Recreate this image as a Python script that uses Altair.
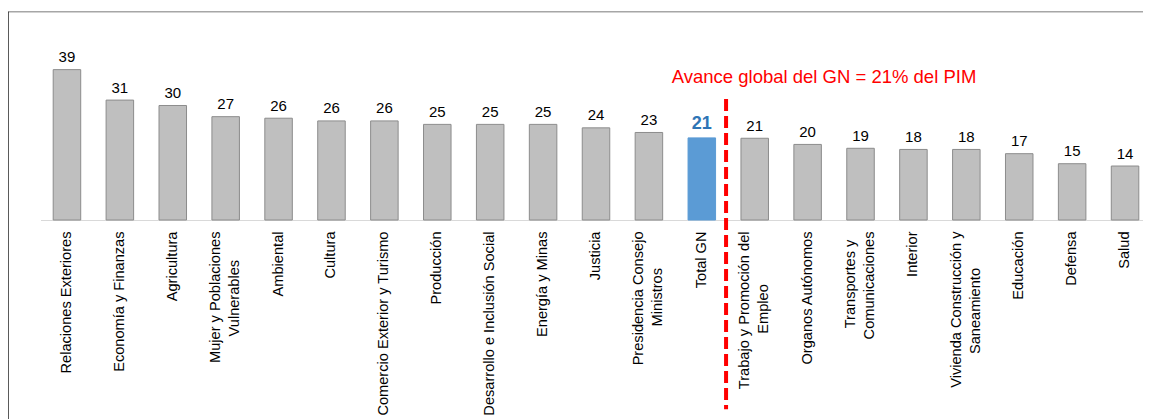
import altair as alt
import pandas as pd

categories = [
    "Relaciones Exteriores", "Economía y Finanzas", "Agricultura",
    "Mujer y Poblaciones\nVulnerables", "Ambiental", "Cultura",
    "Comercio Exterior y Turismo", "Producción", "Desarrollo e Inclusión Social",
    "Energía y Minas", "Justicia", "Presidencia Consejo\nMinistros", "Total GN",
    "Trabajo y Promoción del\nEmpleo", "Organos Autónomos",
    "Transportes y\nComunicaciones", "Interior",
    "Vivienda Construcción y\nSaneamiento", "Educación", "Defensa", "Salud",
]
values = [39.0, 31.1, 29.7, 26.8, 26.4, 25.7, 25.7, 24.8, 24.8, 24.8, 23.9,
          22.7, 21.3, 21.2, 19.6, 18.6, 18.3, 18.3, 17.2, 14.6, 14.0]
highlight = "Total GN"
annotation = "Avance global del GN = 21% del PIM"

FONT = "Liberation Sans"

# Arial / Liberation Sans advance widths (1/1000 em), used to centre the
# lines of two-line labels on each other (no-break spaces + word joiner,
# so that the padding is not trimmed away)
AW = {" ": 278, "\u00a0": 278}
AW.update(dict(zip("abcdefghijklmnopqrstuvwxyz",
                   [556, 556, 500, 556, 556, 278, 556, 556, 222, 222, 500, 222, 833,
                    556, 556, 556, 556, 333, 500, 278, 556, 500, 722, 500, 500, 500])))
AW.update(dict(zip("ABCDEFGHIJKLMNOPQRSTUVWXYZ",
                   [667, 667, 722, 722, 667, 611, 778, 722, 278, 500, 667, 556, 833,
                    722, 778, 667, 778, 722, 667, 611, 722, 667, 944, 667, 667, 611])))
AW.update({"í": 278, "ó": 556, "ú": 556, "á": 556, "é": 556})


def text_em(s):
    return sum(AW.get(c, 556) for c in s) / 1000.0


def centre_lines(label):
    lines = label.split("\n")
    if len(lines) < 2:
        return label
    longest = max(text_em(l) for l in lines)
    out = []
    for l in lines:
        n = int(round((longest - text_em(l)) / 2 / 0.278))
        out.append(l + ("\u00a0" * n + "\u2060" if n else ""))
    return "\n".join(out)


display = [centre_lines(c) for c in categories]
df = pd.DataFrame({"cat": display, "value": values,
                   "is_hl": [c == highlight for c in categories]})

W = 1102.5          # visible plot width (svg = 32.5 + W = 1135 px)
RANGE = 1111        # band range, runs on to the page edge
H = 208.2
x_scale = alt.Scale(domain=display, range=[0, RANGE], paddingInner=0.48, paddingOuter=0.24)
y_scale = alt.Scale(domain=[0, 54.0], nice=False, zero=True)

x_enc = alt.X("cat:N", scale=x_scale, sort=None,
              axis=alt.Axis(title=None, labelAngle=270, labelAlign="right",
                            labelBaseline="middle", labelFont=FONT,
                            labelFontSize=14.6, labelColor="#000000",
                            labelPadding=11, labelLimit=500, labelLineHeight=19,
                            labelOffset={"condition": {"test": "indexof(datum.label, '\\n') >= 0",
                                                       "value": -9.5},
                                         "value": 0},
                            labelExpr="split(datum.label, '\\n')",
                            ticks=False, tickSize=0, domainColor="#D9D9D9",
                            domainWidth=1, grid=False, labelOverlap=False))
y_enc = alt.Y("value:Q", scale=y_scale, axis=None)

base = alt.Chart(df)

bars = base.mark_bar(strokeWidth=1).encode(
    x=x_enc, y=y_enc,
    fill=alt.condition("datum.is_hl", alt.value("#5B9BD5"), alt.value("#BFBFBF")),
    stroke=alt.condition("datum.is_hl", alt.value("#5B9BD5"), alt.value("#8C8C8C")),
)

labels = base.transform_filter("!datum.is_hl").mark_text(
    font=FONT, fontSize=15, color="#000000", baseline="alphabetic", dy=-7.5
).encode(x=alt.X("cat:N", scale=x_scale, sort=None), y=y_enc,
         text=alt.Text("value:Q", format=".0f"))

hl_label = base.transform_filter("datum.is_hl").mark_text(
    font=FONT, fontSize=18, fontWeight="bold", color="#2E75B6",
    baseline="alphabetic", dy=-9
).encode(x=alt.X("cat:N", scale=x_scale, sort=None), y=y_enc,
         text=alt.Text("value:Q", format=".0f"))

divider = base.transform_filter("datum.is_hl").mark_rule(
    color="#FF0000", strokeWidth=4, strokeDash=[12, 5], xOffset=10.5
).encode(x=alt.X("cat:N", scale=x_scale, sort=None, bandPosition=1),
         y=alt.datum(31.4), y2=alt.value(397.5))

note = alt.Chart(pd.DataFrame({"t": [annotation]})).mark_text(
    font=FONT, fontSize=18.5, color="#FF0000", align="center", baseline="alphabetic"
).encode(x=alt.value(783.5), y=alt.value(71.5), text="t:N")

frame_top = alt.Chart(pd.DataFrame({"a": [0]})).mark_rule(
    color="#A6A6A6", strokeWidth=1.5
).encode(x=alt.value(-32.5), x2=alt.value(RANGE), y=alt.value(0))

frame_left = alt.Chart(pd.DataFrame({"a": [0]})).mark_rule(
    color="#000000", strokeWidth=1.3
).encode(x=alt.value(-32.5), y=alt.value(0), y2=alt.value(420))

chart = alt.layer(bars, labels, hl_label, divider, note, frame_top, frame_left).properties(
    width=W, height=H,
    padding={"left": 32.5, "top": 3.8, "right": 0, "bottom": 199},
    autosize=alt.AutoSizeParams(type="none"),
    background="white",
).configure_view(stroke=None)

chart.save("out.html", embed_options={"renderer": "svg", "actions": False})
